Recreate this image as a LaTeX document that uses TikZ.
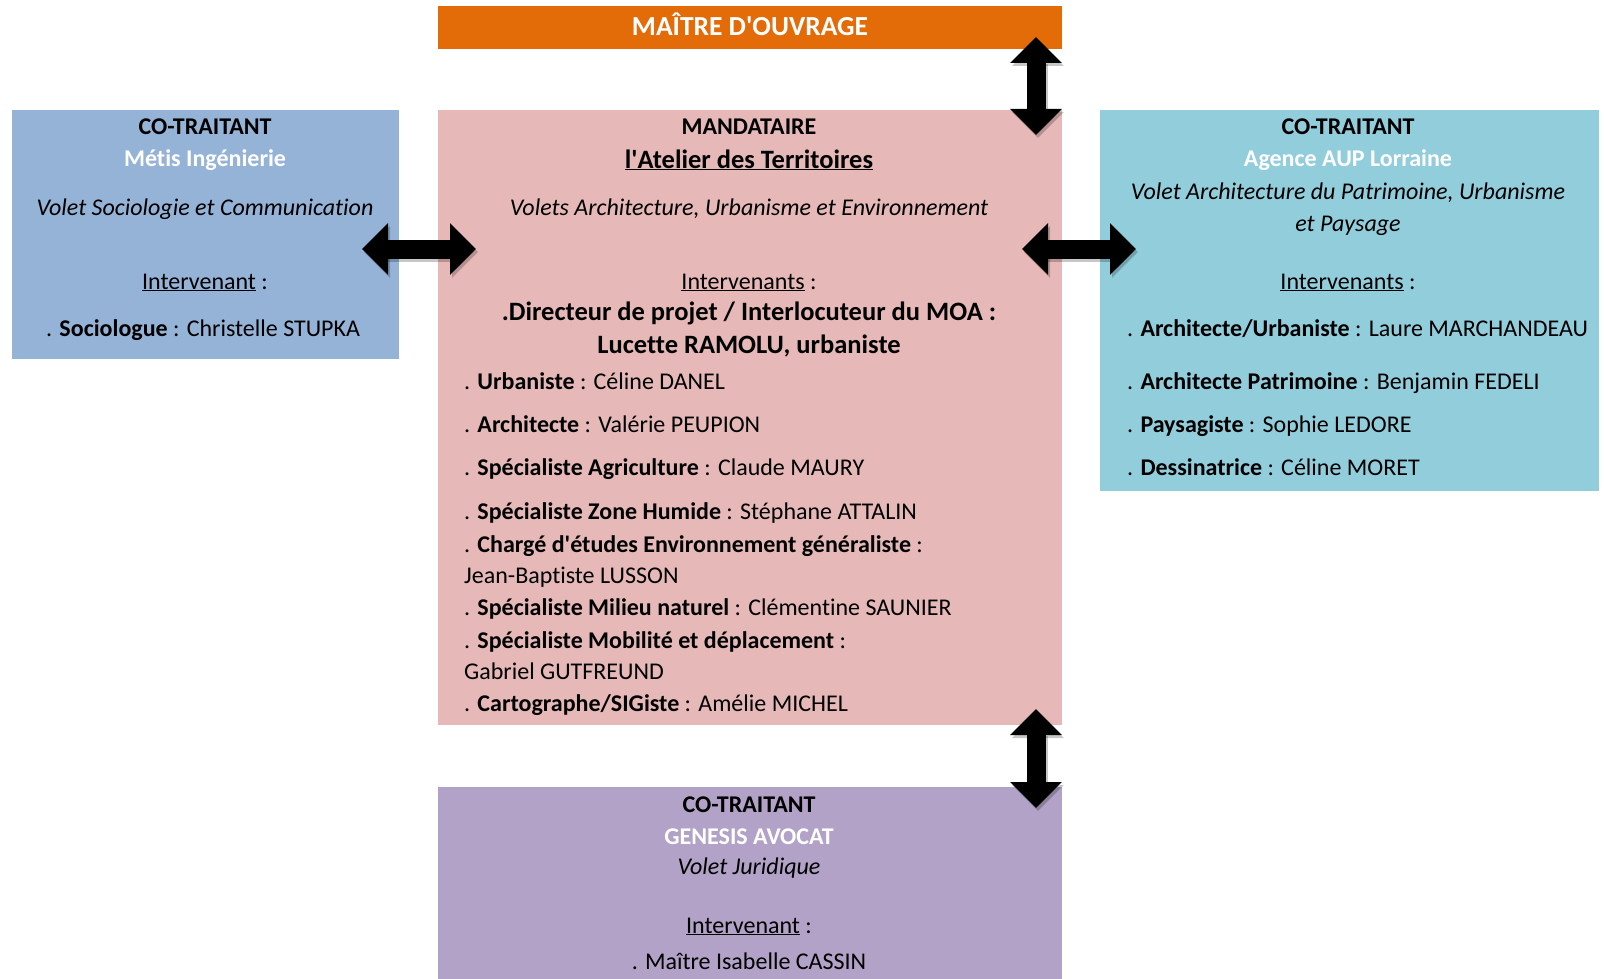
\documentclass[tikz,border=0pt]{standalone}
\usepackage{fontspec}
\setmainfont{Carlito}[Ligatures={NoCommon}]
\usetikzlibrary{arrows.meta}
\definecolor{corange}{HTML}{E36C09}
\definecolor{cblue}{HTML}{95B3D7}
\definecolor{cpink}{HTML}{E6B9B8}
\definecolor{ccyan}{HTML}{92CDDC}
\definecolor{cpurple}{HTML}{B2A2C7}
\newcommand{\ul}[1]{\underline{#1}}
\newcommand{\apo}{\textquotesingle}
\begin{document}
\begin{tikzpicture}[x=1pt,y=-1pt,
  box/.style={rectangle, anchor=north west, inner sep=0pt, outer sep=0pt},
  txt/.style={anchor=base, inner sep=0pt, font=\fontsize{24}{29}\selectfont},
  ltxt/.style={txt, anchor=base west},
  bigtxt/.style={txt, font=\fontsize{26.5}{31}\selectfont\bfseries},
  wtxt/.style={txt, text=white, font=\fontsize{24}{29}\selectfont\bfseries},
  bigarrow/.style={line width=19pt, {Triangle[width=50pt,length=26pt]}-{Triangle[width=50pt,length=26pt]}},
  shadowarrow/.style={bigarrow, draw=black, opacity=0.22, transform canvas={xshift=2pt,yshift=-3pt}}
]
\useasboundingbox (0,0) rectangle (1604,979);
\fill[white] (0,0) rectangle (1604,979);

% boxes
\node[box, fill=corange, minimum width=624pt, minimum height=43pt] (moa) at (438,6) {};
\node[box, fill=cblue, minimum width=387pt, minimum height=249pt] (lbox) at (12,110) {};
\node[box, fill=cpink, minimum width=624pt, minimum height=615pt] (mbox) at (438,110) {};
\node[box, fill=ccyan, minimum width=499pt, minimum height=381pt] (rbox) at (1100,110) {};
\node[box, fill=cpurple, minimum width=624pt, minimum height=192pt] (bbox) at (438,787) {};

% orange header
\node[wtxt, font=\fontsize{27.5}{32}\selectfont\bfseries] (moat) at (750,36) {MAÎTRE D\apo OUVRAGE};

% left box
\node[txt, font=\fontsize{24}{29}\selectfont\bfseries] (l1) at (205,135) {CO-TRAITANT};
\node[wtxt] (l2) at (205,167) {Métis Ingénierie};
\node[txt, font=\fontsize{24}{29}\selectfont\itshape] (l3) at (205,215) {Volet Sociologie et Communication};
\node[txt] (l4) at (205,289) {\ul{Intervenant} :};
\node[ltxt] (l5) at (46,336) {. \textbf{Sociologue} : Christelle STUPKA};

% middle box
\node[txt, font=\fontsize{24}{29}\selectfont\bfseries] (m1) at (749,135) {MANDATAIRE};
\node[bigtxt] (m2) at (749,168) {\ul{l\apo Atelier des Territoires}};
\node[txt, font=\fontsize{24}{29}\selectfont\itshape] (m3) at (749,215) {Volets Architecture, Urbanisme et Environnement};
\node[txt] (m4) at (749,289) {\ul{Intervenants} :};
\node[bigtxt] (m5) at (749,320) {.Directeur de projet / Interlocuteur du MOA :};
\node[bigtxt] (m6) at (749,353) {Lucette RAMOLU, urbaniste};
\node[ltxt] (m7) at (464,389) {. \textbf{Urbaniste} : Céline DANEL};
\node[ltxt] (m8) at (464,432) {. \textbf{Architecte} : Valérie PEUPION};
\node[ltxt] (m9) at (464,475) {. \textbf{Spécialiste Agriculture} : Claude MAURY};
\node[ltxt] (m10) at (464,519) {. \textbf{Spécialiste Zone Humide} : Stéphane ATTALIN};
\node[ltxt] (m11) at (464,552) {. \textbf{Chargé d\apo études Environnement généraliste} :};
\node[ltxt] (m12) at (464,583) {Jean-Baptiste LUSSON};
\node[ltxt] (m13) at (464,615) {. \textbf{Spécialiste Milieu naturel} : Clémentine SAUNIER};
\node[ltxt] (m14) at (464,648) {. \textbf{Spécialiste Mobilité et déplacement} :};
\node[ltxt] (m15) at (464,679) {Gabriel GUTFREUND};
\node[ltxt] (m16) at (464,711) {. \textbf{Cartographe/SIGiste} : Amélie MICHEL};

% right box
\node[txt, font=\fontsize{24}{29}\selectfont\bfseries] (r1) at (1348,135) {CO-TRAITANT};
\node[wtxt] (r2) at (1348,167) {Agence AUP Lorraine};
\node[txt, font=\fontsize{24}{29}\selectfont\itshape] (r3) at (1348,200) {Volet Architecture du Patrimoine, Urbanisme};
\node[txt, font=\fontsize{24}{29}\selectfont\itshape] (r4) at (1348,231) {et Paysage};
\node[txt] (r5) at (1348,289) {\ul{Intervenants} :};
\node[ltxt] (r6) at (1127,336) {. \textbf{Architecte/Urbaniste} : Laure MARCHANDEAU};
\node[ltxt] (r7) at (1127,389) {. \textbf{Architecte Patrimoine} : Benjamin FEDELI};
\node[ltxt] (r8) at (1127,432) {. \textbf{Paysagiste} : Sophie LEDORE};
\node[ltxt] (r9) at (1127,475) {. \textbf{Dessinatrice} : Céline MORET};

% bottom box
\node[txt, font=\fontsize{24}{29}\selectfont\bfseries] (b1) at (749,812) {CO-TRAITANT};
\node[wtxt] (b2) at (749,844) {GENESIS AVOCAT};
\node[txt, font=\fontsize{24}{29}\selectfont\itshape] (b3) at (749,874) {Volet Juridique};
\node[txt] (b4) at (749,933) {\ul{Intervenant} :};
\node[txt] (b5) at (749,969) {. Maître Isabelle CASSIN};

% arrow end points
\coordinate (aL1) at (362,249);
\coordinate (aL2) at (476,249);
\coordinate (aR1) at (1022,249);
\coordinate (aR2) at (1136,249);
\coordinate (aT1) at (1036,37);
\coordinate (aT2) at (1036,135);
\coordinate (aB1) at (1036,709);
\coordinate (aB2) at (1036,808);

% shadows
\draw[shadowarrow] (aL1) -- (aL2);
\draw[shadowarrow] (aR1) -- (aR2);
\draw[shadowarrow] (aT1) -- (aT2);
\draw[shadowarrow] (aB1) -- (aB2);
% arrows
\draw[bigarrow] (aL1) -- (aL2);
\draw[bigarrow] (aR1) -- (aR2);
\draw[bigarrow] (aT1) -- (aT2);
\draw[bigarrow] (aB1) -- (aB2);
\end{tikzpicture}
\end{document}
